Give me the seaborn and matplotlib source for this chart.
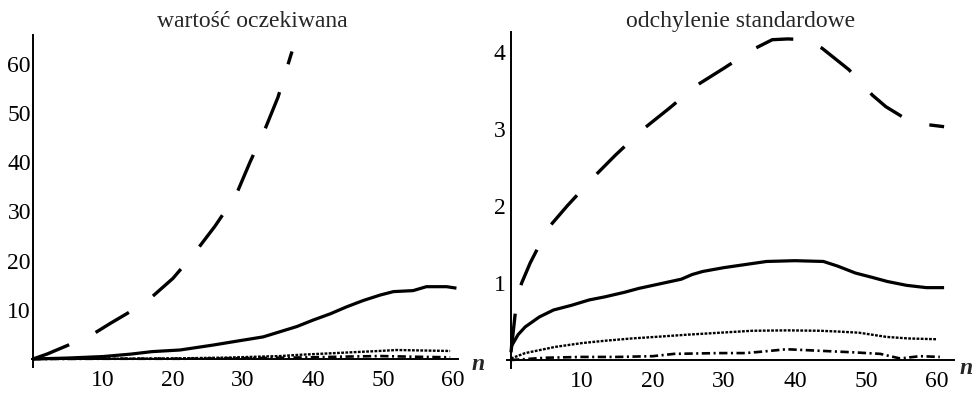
import numpy as np
import pandas as pd
import matplotlib
matplotlib.use("Agg")
import matplotlib.pyplot as plt
import seaborn as sns
from matplotlib.ticker import MultipleLocator

sns.set_style("white")
plt.rcParams['font.family'] = ['Liberation Serif', 'DejaVu Serif']
plt.rcParams['lines.scale_dashes'] = False

# --- wartosc oczekiwana (left) ---
ev_long_n = [0, 2, 5, 8.5, 11, 13.5, 16.5, 20, 23, 26, 29, 31, 33, 35, 37]
ev_long = [0, 1.0, 2.8, 5.0, 7.2, 9.3, 12.0, 16.4, 21.4, 27.0, 33.3, 40.0, 46.2, 53.2, 62.5]

ev_solid_n = [0, 5, 10, 14, 17, 21, 25.8, 29, 32.9, 35.3, 37.7, 40, 42.5, 44.8, 47.2,
              49.6, 51.5, 54.3, 56.2, 59.1, 60.5]
ev_solid = [0, 0.2, 0.5, 1.0, 1.5, 1.83, 2.85, 3.6, 4.5, 5.55, 6.6, 7.9, 9.2, 10.6, 11.9,
            13.0, 13.7, 13.9, 14.7, 14.7, 14.4]

ev_dot_n = [0, 10, 21, 28, 35.3, 38, 42.4, 46, 49, 52, 55, 59.6]
ev_dot = [0, 0.05, 0.14, 0.3, 0.6, 0.85, 1.15, 1.4, 1.6, 1.83, 1.75, 1.63]

ev_dd_n = [0, 10, 21, 30, 35, 40, 45, 49.6, 55, 59.6]
ev_dd = [0, 0.05, 0.05, 0.15, 0.25, 0.35, 0.5, 0.6, 0.45, 0.35]

# --- odchylenie standardowe (right) ---
sd_long_n = [0, 0.8, 1.5, 2.7, 5.2, 7.9, 11.9, 14.7, 18.5, 22.3, 26.2, 30, 34, 36.8, 39,
             41.4, 43.8, 47.6, 50.9, 52.8, 55.1, 57.5, 61]
sd_long = [0.1, 0.78, 1.0, 1.26, 1.71, 2.0, 2.4, 2.66, 2.99, 3.27, 3.57, 3.79, 4.03, 4.16, 4.17,
           4.16, 4.05, 3.77, 3.44, 3.29, 3.16, 3.07, 3.03]

sd_solid_n = [0, 1, 2, 4, 6, 8.5, 11, 13.2, 16, 18, 20, 22.5, 24, 25.5, 27, 30, 33, 36, 40,
              44, 46, 48.5, 51, 53, 55.7, 58.5, 61]
sd_solid = [0.17, 0.33, 0.43, 0.56, 0.65, 0.71, 0.78, 0.82, 0.88, 0.93, 0.97, 1.02, 1.05, 1.11,
            1.15, 1.2, 1.24, 1.28, 1.29, 1.28, 1.22, 1.13, 1.07, 1.02, 0.97, 0.94, 0.94]

sd_dot_n = [0, 2, 6.2, 10, 13.2, 17, 20.3, 25, 29.5, 34, 39, 43.5, 46, 49, 52.9, 56, 59.9]
sd_dot = [0.02, 0.09, 0.17, 0.22, 0.25, 0.28, 0.30, 0.33, 0.355, 0.38, 0.385, 0.38, 0.37,
          0.355, 0.30, 0.28, 0.27]

sd_dd_n = [0, 5, 10, 15, 20, 23, 29.4, 33, 35.5, 38.8, 43.5, 48.2, 52, 54.8, 57.6, 60.4]
sd_dd = [0.0, 0.03, 0.04, 0.04, 0.05, 0.08, 0.09, 0.09, 0.11, 0.14, 0.12, 0.10, 0.08, 0.02,
         0.05, 0.04]

styles = {
    'long': dict(lw=2.4, linestyle=(0, (28, 21))),
    'solid': dict(lw=2.3, linestyle='-'),
    'dot': dict(lw=1.7, linestyle=(0, (2, 1))),
    'dd': dict(lw=1.9, linestyle=(0, (6, 2.5, 1.5, 2.5))),
}

fig = plt.figure(figsize=(9.79, 3.99), dpi=100)
ax1 = fig.add_axes([0.03228, 0.0805, 0.4354, 0.8311])
ax2 = fig.add_axes([0.5179, 0.0784, 0.4566, 0.8414])

def draw(ax, series):
    for key, n, v in series:
        df = pd.DataFrame({'n': n, 'v': v})
        sns.lineplot(data=df, x='n', y='v', ax=ax, color='black', estimator=None,
                     solid_capstyle='butt', dash_capstyle='butt', **styles[key])

draw(ax1, [('dd', ev_dd_n, ev_dd), ('dot', ev_dot_n, ev_dot),
           ('solid', ev_solid_n, ev_solid), ('long', ev_long_n, ev_long)])
draw(ax2, [('dd', sd_dd_n, sd_dd), ('dot', sd_dot_n, sd_dot),
           ('solid', sd_solid_n, sd_solid), ('long', sd_long_n, sd_long)])

ax1.set_xlim(-0.2, 60.7)
ax1.set_ylim(-1.6, 65.8)
ax1.set_yticks([10, 20, 30, 40, 50, 60])
ax1.yaxis.set_minor_locator(MultipleLocator(2))
ax2.set_xlim(-0.56, 62.4)
ax2.set_ylim(-0.1, 4.26)
ax2.set_yticks([1, 2, 3, 4])
ax2.yaxis.set_minor_locator(MultipleLocator(0.2))

for ax, ypad in [(ax1, 1.5), (ax2, 4)]:
    ax.set_facecolor('white')
    ax.set_xlabel('')
    ax.set_ylabel('')
    ax.set_xticks([10, 20, 30, 40, 50, 60])
    ax.xaxis.set_minor_locator(MultipleLocator(2))
    for s in ['top', 'right']:
        ax.spines[s].set_visible(False)
    for s in ['left', 'bottom']:
        ax.spines[s].set_position(('data', 0))
        ax.spines[s].set_color('black')
        ax.spines[s].set_linewidth(1.4)
    ax.tick_params(axis='both', which='major', direction='in', length=4, width=1.1,
                   labelsize=17, colors='black')
    ax.tick_params(axis='both', which='minor', direction='in', length=2.2, width=0.9)
    ax.tick_params(axis='x', which='major', pad=8)
    ax.tick_params(axis='y', which='major', pad=ypad)
    ax.grid(False)

fig.text(252 / 979, 1 - 27 / 399, 'wartość oczekiwana', ha='center', va='baseline',
         fontsize=17)
fig.text(741 / 979, 1 - 27 / 399, 'odchylenie standardowe', ha='center', va='baseline',
         fontsize=17)
fig.text(478 / 979, 1 - 365 / 399, 'n', ha='center', va='center', fontsize=17,
         style='italic', weight='bold')
fig.text(966 / 979, 1 - 368 / 399, 'n', ha='center', va='center', fontsize=17,
         style='italic', weight='bold')

fig.savefig('out.png', dpi=100, facecolor='white')
